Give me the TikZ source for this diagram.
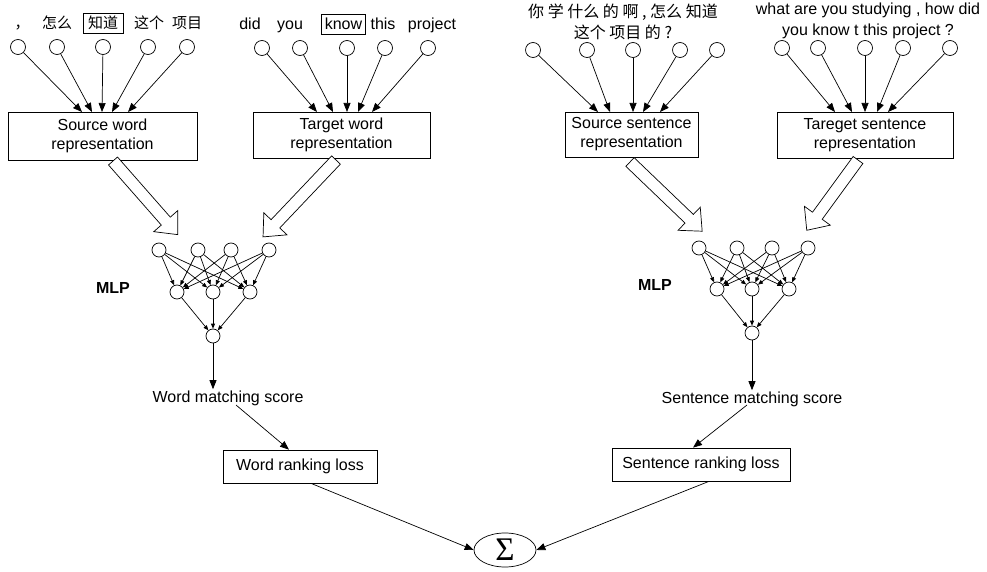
\documentclass[tikz,border=0pt]{standalone}
\usepackage{fontspec}
\setmainfont{Liberation Sans}
\newfontfamily\cjk{Noto Sans CJK SC}
\newfontfamily\sigmafont{Liberation Serif}
\usetikzlibrary{arrows.meta,calc,shapes.geometric}

\tikzset{
  pics/fatarrow/.style={code={
    \draw[line width=0.7pt, fill=white]
      (0,-6) -- (#1-18,-6) -- (#1-18,-16) -- (#1,0) -- (#1-18,16) -- (#1-18,6) -- (0,6) -- cycle;}}
}

\begin{document}
\begin{tikzpicture}[x=1pt,y=-1pt,
  line width=0.7pt,
  every node/.style={font=\fontsize{16}{19}\selectfont},
  unit/.style={circle,draw,minimum size=15pt,inner sep=0pt},
  mlpunit/.style={circle,draw,minimum size=14pt,inner sep=0pt},
  repbox/.style={draw,align=center,inner sep=0pt},
  wordlab/.style={anchor=base},
  cjklab/.style={anchor=base,font=\cjk\fontsize{15}{18}\selectfont},
  feed/.style={-{Triangle[length=9pt,width=7pt]}},
  mlpedge/.style={-{Triangle[length=5pt,width=4pt]}}
]
\useasboundingbox (0,0) rectangle (987,572);

% ---------------- word-level branch ----------------
% source words
\node[cjklab] (sl1) at (22,29) {，};
\node[cjklab] (sl2) at (57,29) {怎么};
\node[cjklab,draw,inner xsep=5pt,inner ysep=3pt] (sl3) at (103,29) {知道};
\node[cjklab] (sl4) at (149,29) {这个};
\node[cjklab] (sl5) at (187,29) {项目};
\node[repbox,minimum width=189pt,minimum height=48pt] (srcw) at (102.5,136) {Source word\\representation};
\foreach \x/\t [count=\i] in {18/82,57/92,103/102,148/112,187/128}{
  \node[unit] (sw\i) at (\x,47) {};
  \coordinate (swt\i) at (\t,112);
  \draw[feed] (sw\i) -- (swt\i);
}

% target words
\node[wordlab] (tl1) at (250,30) {did};
\node[wordlab] (tl2) at (290,30) {you};
\node[wordlab,draw,inner xsep=3pt,inner ysep=4pt] (tl3) at (343.5,30) {know};
\node[wordlab] (tl4) at (383,30) {this};
\node[wordlab] (tl5) at (432,30) {project};
\node[repbox,minimum width=177pt,minimum height=46pt] (tgtw) at (341.5,135) {Target word\\representation};
\foreach \x/\t [count=\i] in {262/317,300/333,347/347,385/358,428/372}{
  \node[unit] (tw\i) at (\x,48) {};
  \coordinate (twt\i) at (\t,112);
  \draw[feed] (tw\i) -- (twt\i);
}

% word MLP
\coordinate (wa1) at (113,161);
\coordinate (wa2) at (336,160);
\pic[rotate=-48.7] at (wa1) {fatarrow=98};
\pic[rotate=-133.5] at (wa2) {fatarrow=106};
\foreach \x [count=\i] in {159,198,231,269} \node[mlpunit] (wi\i) at (\x,250) {};
\foreach \x [count=\j] in {177,213,250} \node[mlpunit] (wh\j) at (\x,292) {};
\node[mlpunit] (wo) at (213,336) {};
\foreach \i in {1,...,4}{\foreach \j in {1,2,3}{\draw[mlpedge] (wi\i) -- (wh\j);}}
\foreach \j in {1,2,3}{\draw[mlpedge] (wh\j) -- (wo);}
\node[font=\bfseries\fontsize{16}{19}\selectfont] (wmlp) at (113,288) {MLP};
\node[inner sep=1pt] (wms) at (228,398) {Word matching score};
\draw[feed] (wo) -- (wo |- wms.north);
\node[draw,minimum width=154pt,minimum height=33pt,inner sep=0pt] (wrl) at (300,466.5) {Word ranking loss};
\coordinate (wmsx) at (236,405);
\draw[feed] (wmsx) -- (wrl.north -| 289,0);

% ---------------- sentence-level branch ----------------
\node[align=center,font=\cjk\fontsize{16}{21}\selectfont] (ssl) at (623,22)
  {你 学 什么 的 啊 , 怎么 知道\\这个 项目 的 ?};
\node[repbox,minimum width=133pt,minimum height=45pt] (srcs) at (631.5,134.5) {Source sentence\\representation};
\foreach \x/\t [count=\i] in {533/598,587/610,633/633,680/643,717/660}{
  \node[unit] (ss\i) at (\x,50) {};
  \coordinate (sst\i) at (\t,112);
  \draw[feed] (ss\i) -- (sst\i);
}

\node[align=center,font=\fontsize{16}{21}\selectfont] (tsl) at (868,21)
  {what are you studying , how did\\you know t this project ?};
\node[repbox,minimum width=176pt,minimum height=46pt] (tgts) at (865,135) {Tareget sentence\\representation};
\foreach \x/\t [count=\i] in {782/835,818/852,865/865,903/877,950/888}{
  \node[unit] (ts\i) at (\x,48) {};
  \coordinate (tst\i) at (\t,112);
  \draw[feed] (ts\i) -- (tst\i);
}

% sentence MLP
\coordinate (sa1) at (630,162);
\coordinate (sa2) at (858,160);
\pic[rotate=-43.8] at (sa1) {fatarrow=100};
\pic[rotate=-126.1] at (sa2) {fatarrow=87};
\foreach \x [count=\i] in {699,737,772,808} \node[mlpunit] (si\i) at (\x,248) {};
\foreach \x [count=\j] in {717,752,789} \node[mlpunit] (sh\j) at (\x,289) {};
\node[mlpunit] (so) at (752,333) {};
\foreach \i in {1,...,4}{\foreach \j in {1,2,3}{\draw[mlpedge] (si\i) -- (sh\j);}}
\foreach \j in {1,2,3}{\draw[mlpedge] (sh\j) -- (so);}
\node[font=\bfseries\fontsize{16}{19}\selectfont] (smlp) at (655,285) {MLP};
\node[inner sep=1pt] (sms) at (752,399) {Sentence matching score};
\draw[feed] (so) -- (so |- sms.north);
\node[draw,minimum width=178pt,minimum height=33pt,inner sep=0pt] (srl) at (701,464.5) {Sentence ranking loss};
\coordinate (smsx) at (747,405);
\draw[feed] (smsx) -- (srl.north -| 693,0);

% ---------------- combined loss ----------------
\node[ellipse,draw,minimum width=62pt,minimum height=34pt,inner sep=0pt] (sum) at (505,550)
  {\sigmafont\fontsize{33}{33}\selectfont Σ};
\draw[feed] (wrl.south -| 311,0) -- (sum.west);
\draw[feed] (srl.south -| 709,0) -- (sum.east);
\end{tikzpicture}
\end{document}
